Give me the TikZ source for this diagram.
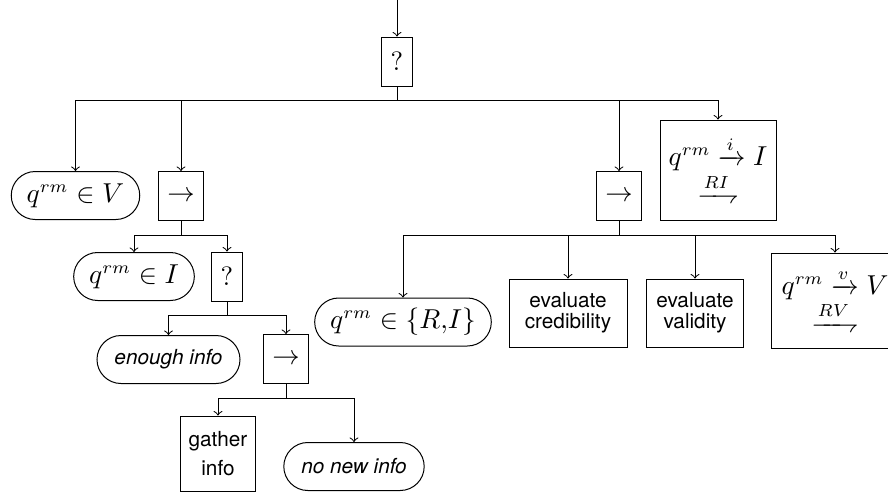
\documentclass[tikz,border=0pt]{standalone}
\usepackage{amsmath,amssymb}
\usepackage{mathtools}
\usepackage{fontspec}
\setsansfont{TeX Gyre Heros}[Scale=0.83]

\begin{document}
\begin{tikzpicture}[x=0.4pt,y=-0.4pt,font=\fontsize{10.6}{12.7}\selectfont,
    sel/.style={draw,minimum height=19.6pt,inner xsep=3.5pt},
    cond/.style={draw,rounded corners=9.6pt,minimum height=19.2pt,inner xsep=6.2pt},
    act/.style={draw,align=center,font=\sffamily},
    arc/.style={draw,align=center,inner sep=2pt}]
    \useasboundingbox (0,0) rectangle (888,494);
    % radice
    \coordinate (in) at (397,0);
    \node [sel] (root) at (397,61.5) {?};
    \draw [->] (in) -- (root);
    % primo livello
    \node [cond] (qV) at (75.5,195.5) {$q^{rm} \in V$};
    \node [sel] (seqL) at (181,196) {$\rightarrow$};
    \node [sel] (seqR) at (619,196) {$\rightarrow$};
    \node [arc,minimum width=46.4pt,minimum height=40pt] (qIarc) at (718,170)
        {$q^{rm} \xrightarrow{i} I$\\ $\xrightharpoondown{RI}$};
    \foreach \c in {qV,seqL,seqR,qIarc}
        \draw [->] (root.south) -- ++(0,14) -| (\c.north);
    % ramo sinistro
    \node [cond] (qI) at (134,276.5) {$q^{rm} \in I$};
    \node [sel] (selL) at (227,276.5) {?};
    \foreach \c in {qI,selL}
        \draw [->] (seqL.south) -- ++(0,14) -| (\c.north);
    \node [cond,inner xsep=7pt,font=\sffamily\itshape] (enough) at (168.5,359.5)
        {enough info};
    \node [sel] (seqL2) at (286,359) {$\rightarrow$};
    \foreach \c in {enough,seqL2}
        \draw [->] (selL.south) -- ++(0,14) -| (\c.north);
    \node [act,minimum height=30pt] (gather) at (218,453.5) {gather\\[-0.7pt]info};
    \node [cond,inner xsep=7pt,font=\sffamily\itshape] (nonew) at (354,466.5)
        {no new info};
    \foreach \c in {gather,nonew}
        \draw [->] (seqL2.south) -- ++(0,14) -| (\c.north);
    % ramo destro
    \node [cond] (qRI) at (403,322) {$q^{rm} \in \{R{,}I\}$};
    \node [act,minimum width=47.2pt,minimum height=27.2pt] (cred) at (568,313)
        {evaluate\\[-3.7pt]credibility};
    \node [act,minimum width=38.8pt,minimum height=27.2pt] (valid) at (695,313)
        {evaluate\\[-3.7pt]validity};
    \node [arc,minimum width=51pt,minimum height=38pt] (qVarc) at (835,300.5)
        {$q^{rm} \xrightarrow{v} V$\\ $\xrightharpoondown{RV}$};
    \foreach \c in {qRI,cred,valid,qVarc}
        \draw [->] (seqR.south) -- ++(0,14) -| (\c.north);
\end{tikzpicture}
\end{document}
